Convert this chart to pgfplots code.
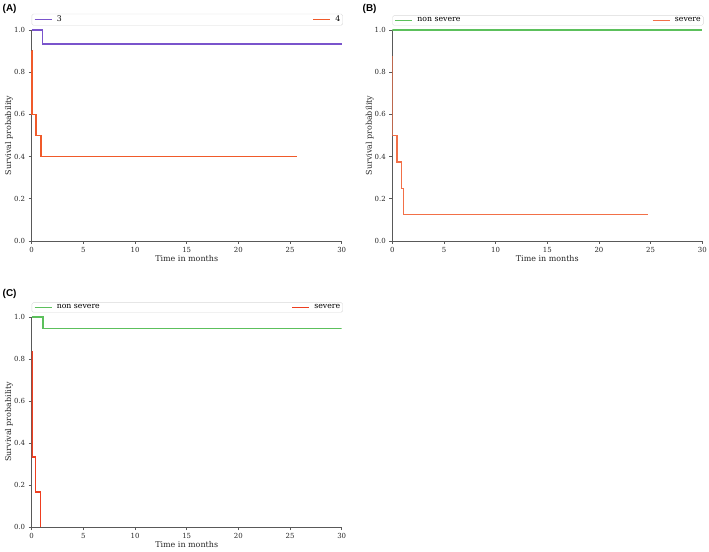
\documentclass[border=0pt]{standalone}
\usepackage{fontspec}
\setmainfont{DejaVu Serif}
\newfontfamily\panelfont{Liberation Sans}
\usepackage{pgfplots}
\pgfplotsset{compat=1.18}
\definecolor{cpurple}{RGB}{122,84,204}
\definecolor{corange}{RGB}{240,90,42}
\definecolor{csalmon}{RGB}{242,112,72}
\definecolor{cred}{RGB}{238,62,32}
\definecolor{cgreen}{RGB}{92,192,92}
\newcommand{\legfont}{\fontsize{7.8}{9}\selectfont}
\newlength\lwA
\newlength\lwB
\settowidth{\lwA}{\legfont 4}
\settowidth{\lwB}{\legfont severe}
\pgfplotsset{
  km/.style={
    scale only axis, width=310bp, height=211bp,
    xmin=0, xmax=30, ymin=0, ymax=1,
    axis lines*=left,
    axis line style={draw=black!65, line width=0.8bp},
    tick style={draw=black!65, line width=0.7bp},
    tick align=outside, major tick length=3bp,
    xtick={0,5,...,30}, ytick={0,0.2,0.4,0.6,0.8,1.0},
    yticklabel style={/pgf/number format/.cd, fixed, fixed zerofill, precision=1},
    /pgf/number format/assume math mode=true,
    tick label style={font=\fontsize{7}{8}\selectfont, text=black!85},
    label style={font=\fontsize{8}{9}\selectfont, text=black!85},
    xlabel={Time in months}, ylabel={Survival probability},
    xlabel style={at={(axis description cs:0.5,-0.085)}, anchor=center},
    ylabel style={at={(axis description cs:-0.073,0.5)}, anchor=center},
    legend columns=2,
    legend style={at={(0,1)}, anchor=south west, yshift=4.5bp,
      draw=black!15, rounded corners=1.5bp, font=\legfont,
      inner xsep=2bp, inner ysep=1.5bp, column sep=4bp,
      nodes={inner sep=0.5bp}},
    legend cell align=left,
    legend image code/.code={\draw[##1] (0bp,0bp) -- (17bp,0bp);},
    every axis plot/.append style={line width=1.4bp},
  }
}
\begin{document}
\begin{tikzpicture}
\useasboundingbox (0,0) rectangle (709bp,552bp);
\node[anchor=west, inner sep=0pt] at (2.5bp,543.5bp) {\panelfont\fontsize{10}{11}\selectfont\bfseries (A)};
\node[anchor=west, inner sep=0pt] at (362.5bp,543.5bp) {\panelfont\fontsize{10}{11}\selectfont\bfseries (B)};
\node[anchor=west, inner sep=0pt] at (2.5bp,258.5bp) {\panelfont\fontsize{10}{11}\selectfont\bfseries (C)};

\begin{axis}[km, clip=false, at={(31.7bp,311bp)}, anchor=south west]
\addplot[cpurple, const plot, forget plot] coordinates {(0,1) (1.06,0.933) (30,0.933)};
\addplot[corange, const plot, forget plot] coordinates {(0,0.9) (0.01,0.8) (0.02,0.7) (0.03,0.6) (0.41,0.5) (0.9,0.4) (25.7,0.4)};
\addlegendimage{cpurple, line width=1.4bp}
\addlegendentry{\makebox[\dimexpr 310bp-54bp-\lwA\relax][l]{3}}
\addlegendimage{corange, line width=1.4bp}
\addlegendentry{4}
\end{axis}

\begin{axis}[km, at={(392.3bp,311bp)}, anchor=south west]
\addplot[cgreen, const plot, forget plot] coordinates {(0,1) (30,1)};
\addplot[csalmon, const plot, forget plot] coordinates {(0,0.875) (0.01,0.75) (0.02,0.625) (0.04,0.5) (0.45,0.375) (0.87,0.25) (1.09,0.125) (24.75,0.125)};
\addlegendimage{cgreen, line width=1.4bp}
\addlegendentry{\makebox[\dimexpr 310bp-54bp-\lwB\relax][l]{non severe}}
\addlegendimage{csalmon, line width=1.4bp}
\addlegendentry{severe}
\end{axis}

\begin{axis}[km, height=210bp, at={(31.7bp,25bp)}, anchor=south west]
\addplot[cgreen, const plot, forget plot] coordinates {(0,1) (1.09,0.944) (30,0.944)};
\addplot[cred, const plot, forget plot] coordinates {(0,0.833) (0.01,0.667) (0.02,0.5) (0.03,0.333) (0.39,0.167) (0.83,0)};
\addlegendimage{cgreen, line width=1.4bp}
\addlegendentry{\makebox[\dimexpr 310bp-54bp-\lwB\relax][l]{non severe}}
\addlegendimage{cred, line width=1.4bp}
\addlegendentry{severe}
\end{axis}
\end{tikzpicture}
\end{document}
